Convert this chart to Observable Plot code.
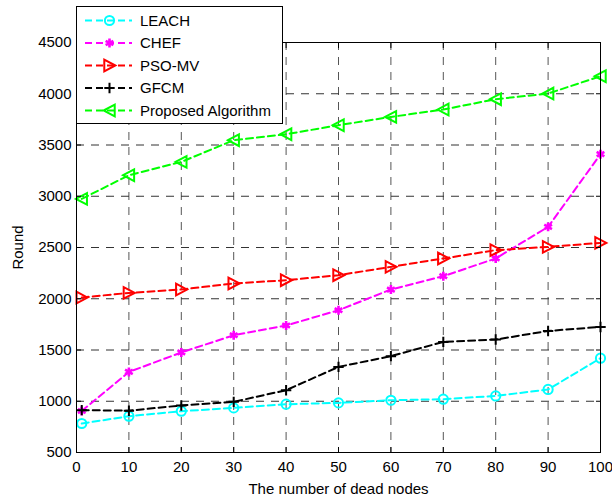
<!DOCTYPE html>
<html><head><meta charset="utf-8">
<script src="https://cdn.jsdelivr.net/npm/d3@7"></script>
<script src="https://cdn.jsdelivr.net/npm/@observablehq/plot@0.6"></script>
<style>
html,body{margin:0;padding:0;background:#fff;}
#chart{position:relative;width:612px;height:497px;}
</style></head><body><div id="chart"></div>
<script>
const deadNodes = [1, 10, 20, 30, 40, 50, 60, 70, 80, 90, 100];
const leach    = [783, 854, 903, 935, 971, 984, 1010, 1020, 1052, 1115, 1420];
const chef     = [905, 1286, 1476, 1644, 1739, 1888, 2090, 2220, 2393, 2701, 3410];
const psoMv    = [2012, 2057, 2090, 2149, 2181, 2230, 2311, 2393, 2474, 2506, 2545];
const gfcm     = [913, 908, 959, 994, 1108, 1335, 1440, 1579, 1602, 1686, 1725];
const proposed = [2974, 3205, 3335, 3547, 3605, 3693, 3774, 3846, 3947, 4002, 4171];
const xTicks = [0, 10, 20, 30, 40, 50, 60, 70, 80, 90, 100];
const yTicks = [500, 1000, 1500, 2000, 2500, 3000, 3500, 4000, 4500];
const seriesNames = ["LEACH", "CHEF", "PSO-MV", "GFCM", "Proposed Algorithm"];
const seriesColors = ["#00FFFF", "#FF00FF", "#FF0000", "#000000", "#00FF00"];
const seriesValues = [leach, chef, psoMv, gfcm, proposed];

const rad = s => Math.sqrt(s / Math.PI);
const triRight = {draw(c, s) { const r = rad(s); c.moveTo(r, 0); c.lineTo(-r * 0.9, -r); c.lineTo(-r * 0.9, r); c.closePath(); }};
const triLeft  = {draw(c, s) { const r = rad(s); c.moveTo(-r, 0); c.lineTo(r * 0.9, -r); c.lineTo(r * 0.9, r); c.closePath(); }};
const plusSym  = {draw(c, s) { const r = rad(s); c.moveTo(-r, 0); c.lineTo(r, 0); c.moveTo(0, -r); c.lineTo(0, r); }};
const seriesSymbols = [d3.symbolCircle, d3.symbolAsterisk, triRight, plusSym, triLeft];
const seriesR = [4.6, 4.2, 5.8, 5.2, 5.8];
const seriesSW = [2, 2.6, 2, 2, 2];

const table = [];
seriesNames.forEach((name, k) => deadNodes.forEach((x, i) => table.push({series: name, x, y: seriesValues[k][i]})));

const font = "'Liberation Sans', Arial, Helvetica, sans-serif";
const fmt = d => String(d);
const marks = [
  Plot.gridX(xTicks, {stroke: "#555", strokeOpacity: 1, strokeWidth: 1, strokeDasharray: "8,7"}),
  Plot.gridY(yTicks, {stroke: "#333", strokeOpacity: 1, strokeWidth: 1, strokeDasharray: "8,7"}),
];
seriesNames.forEach((name, k) => {
  const data = table.filter(d => d.series === name);
  marks.push(Plot.line(data, {x: "x", y: "y", stroke: seriesColors[k], strokeWidth: 2, strokeDasharray: "7,4"}));
  marks.push(Plot.dot(data, {x: "x", y: "y", symbol: seriesSymbols[k], r: seriesR[k], stroke: seriesColors[k], strokeWidth: seriesSW[k], fill: "none"}));
});
marks.push(
  Plot.frame({stroke: "black", strokeWidth: 1}),
  Plot.axisX(xTicks, {anchor: "bottom", tickSize: -5, tickPadding: 14, fontSize: 15, tickFormat: fmt, label: "The number of dead nodes", labelAnchor: "center", labelOffset: 41, labelArrow: "none"}),
  Plot.axisX(xTicks, {anchor: "top", tickSize: -5, tickFormat: () => "", label: null}),
  Plot.axisY(yTicks, {anchor: "left", tickSize: -5, tickPadding: 10, fontSize: 15, tickFormat: fmt, label: "Round", labelAnchor: "center", labelOffset: 64, labelArrow: "none"}),
  Plot.axisY(yTicks, {anchor: "right", tickSize: -5, tickFormat: () => "", label: null})
);

const plot = Plot.plot({
  width: 612, height: 497,
  marginLeft: 76, marginRight: 12, marginTop: 42, marginBottom: 45,
  x: {domain: [0, 100]},
  y: {domain: [500, 4500]},
  style: {fontFamily: font, fontSize: "15px", background: "white", color: "black", overflow: "visible"},
  marks
});
document.getElementById("chart").appendChild(plot);

// Legend (drawn inside the plot, upper-left, like the original)
const svg = d3.select(plot);
const lg = svg.append("g").attr("font-family", font).attr("font-size", 15).attr("text-anchor", "start");
lg.append("rect").attr("x", 76.5).attr("y", 6.5).attr("width", 206).attr("height", 117)
  .attr("fill", "white").attr("stroke", "black").attr("stroke-width", 1);
seriesNames.forEach((name, k) => {
  const cy = 20.5 + k * 22.5;
  lg.append("line").attr("x1", 85).attr("x2", 132).attr("y1", cy).attr("y2", cy)
    .attr("stroke", seriesColors[k]).attr("stroke-width", 2).attr("stroke-dasharray", "7,4");
  lg.append("path").attr("transform", `translate(109.5,${cy})`)
    .attr("d", d3.symbol(seriesSymbols[k], Math.PI * seriesR[k] * seriesR[k])())
    .attr("fill", "none").attr("stroke", seriesColors[k]).attr("stroke-width", seriesSW[k]);
  lg.append("text").attr("x", 140).attr("y", cy).attr("dy", "0.35em").attr("fill", "black")
    .attr("text-anchor", "start").text(name);
});
</script></body></html>
